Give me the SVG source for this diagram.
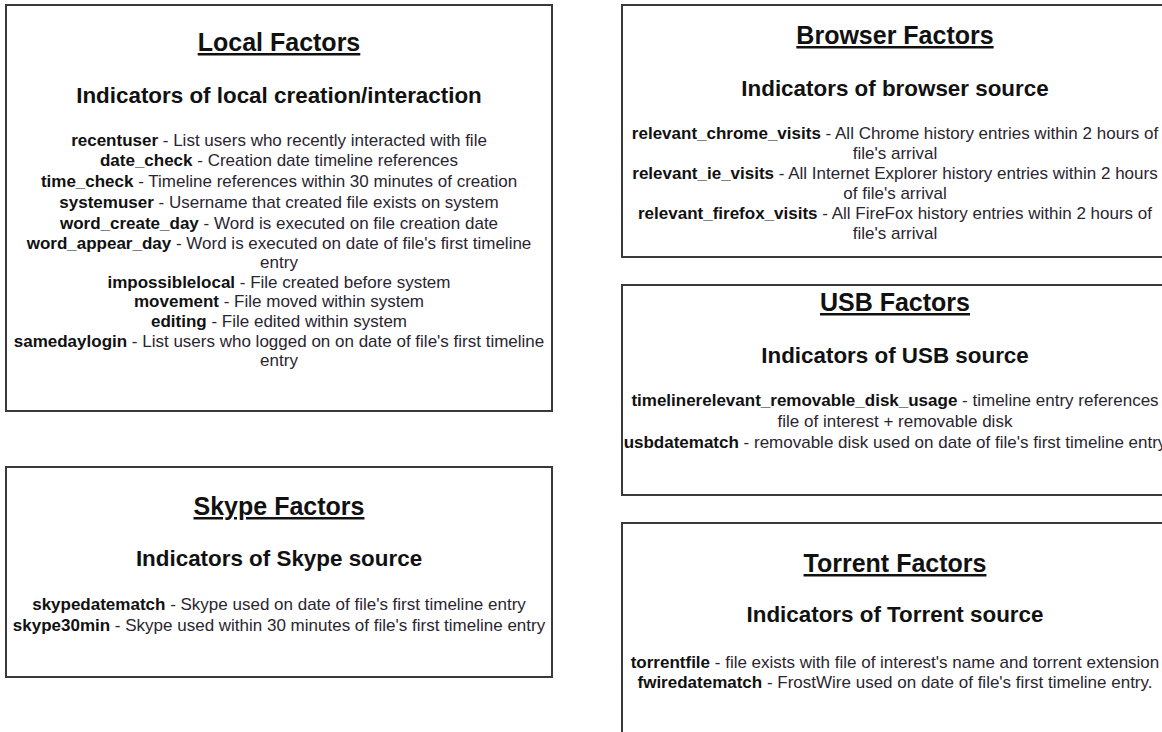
<svg xmlns="http://www.w3.org/2000/svg" width="1162" height="732" viewBox="0 0 1162 732">
<style>
.box{fill:#fff;stroke:#3a3a3a;stroke-width:2}
text{font-family:"Liberation Sans",Arial,sans-serif;fill:#111;text-anchor:middle}
.t{font-size:25px;font-weight:bold;text-decoration:underline}
.h{font-size:22.4px;font-weight:bold}
.b{font-size:17px}
.k{font-weight:bold}
.d{fill:#2a2530}
</style>
<rect width="1162" height="732" fill="#fff"/>
<g id="connectors"/>
<g id="local">
<rect class="box" x="6" y="5" width="546" height="406"/>
<text class="t" x="279" y="51">Local Factors</text>
<text class="h" x="279" y="103">Indicators of local creation/interaction</text>
<text class="b" x="279" y="146"><tspan class="k">recentuser</tspan><tspan class="d"> - List users who recently interacted with file</tspan></text>
<text class="b" x="279" y="166"><tspan class="k">date_check</tspan><tspan class="d"> - Creation date timeline references</tspan></text>
<text class="b" x="279" y="187"><tspan class="k">time_check</tspan><tspan class="d"> - Timeline references within 30 minutes of creation</tspan></text>
<text class="b" x="279" y="208"><tspan class="k">systemuser</tspan><tspan class="d"> - Username that created file exists on system</tspan></text>
<text class="b" x="279" y="229"><tspan class="k">word_create_day</tspan><tspan class="d"> - Word is executed on file creation date</tspan></text>
<text class="b" x="279" y="249"><tspan class="k">word_appear_day</tspan><tspan class="d"> - Word is executed on date of file's first timeline</tspan></text>
<text class="b d" x="279" y="268">entry</text>
<text class="b" x="279" y="288"><tspan class="k">impossiblelocal</tspan><tspan class="d"> - File created before system</tspan></text>
<text class="b" x="279" y="307"><tspan class="k">movement</tspan><tspan class="d"> - File moved within system</tspan></text>
<text class="b" x="279" y="327"><tspan class="k">editing</tspan><tspan class="d"> - File edited within system</tspan></text>
<text class="b" x="279" y="347"><tspan class="k">samedaylogin</tspan><tspan class="d"> - List users who logged on on date of file's first timeline</tspan></text>
<text class="b d" x="279" y="366">entry</text>
</g>
<g id="skype">
<rect class="box" x="6" y="467" width="546" height="210"/>
<text class="t" x="279" y="515">Skype Factors</text>
<text class="h" x="279" y="566">Indicators of Skype source</text>
<text class="b" x="279" y="610"><tspan class="k">skypedatematch</tspan><tspan class="d"> - Skype used on date of file's first timeline entry</tspan></text>
<text class="b" x="279" y="631"><tspan class="k">skype30min</tspan><tspan class="d"> - Skype used within 30 minutes of file's first timeline entry</tspan></text>
</g>
<g id="browser">
<rect class="box" x="622" y="5" width="546" height="252"/>
<text class="t" x="895" y="44">Browser Factors</text>
<text class="h" x="895" y="96">Indicators of browser source</text>
<text class="b" x="895" y="139"><tspan class="k">relevant_chrome_visits</tspan><tspan class="d"> - All Chrome history entries within 2 hours of</tspan></text>
<text class="b d" x="895" y="159">file's arrival</text>
<text class="b" x="895" y="179"><tspan class="k">relevant_ie_visits</tspan><tspan class="d"> - All Internet Explorer history entries within 2 hours</tspan></text>
<text class="b d" x="895" y="199">of file's arrival</text>
<text class="b" x="895" y="219"><tspan class="k">relevant_firefox_visits</tspan><tspan class="d"> - All FireFox history entries within 2 hours of</tspan></text>
<text class="b d" x="895" y="239">file's arrival</text>
</g>
<g id="usb">
<rect class="box" x="622" y="285" width="546" height="210"/>
<text class="t" x="895" y="311">USB Factors</text>
<text class="h" x="895" y="363">Indicators of USB source</text>
<text class="b" x="895" y="406"><tspan class="k">timelinerelevant_removable_disk_usage</tspan><tspan class="d"> - timeline entry references</tspan></text>
<text class="b d" x="895" y="427">file of interest + removable disk</text>
<text class="b" x="895" y="448"><tspan class="k">usbdatematch</tspan><tspan class="d"> - removable disk used on date of file's first timeline entry</tspan></text>
</g>
<g id="torrent">
<rect class="box" x="622" y="523" width="546" height="230"/>
<text class="t" x="895" y="572">Torrent Factors</text>
<text class="h" x="895" y="622">Indicators of Torrent source</text>
<text class="b" x="895" y="668"><tspan class="k">torrentfile</tspan><tspan class="d"> - file exists with file of interest's name and torrent extension</tspan></text>
<text class="b" x="895" y="688"><tspan class="k">fwiredatematch</tspan><tspan class="d"> - FrostWire used on date of file's first timeline entry.</tspan></text>
</g>
</svg>
